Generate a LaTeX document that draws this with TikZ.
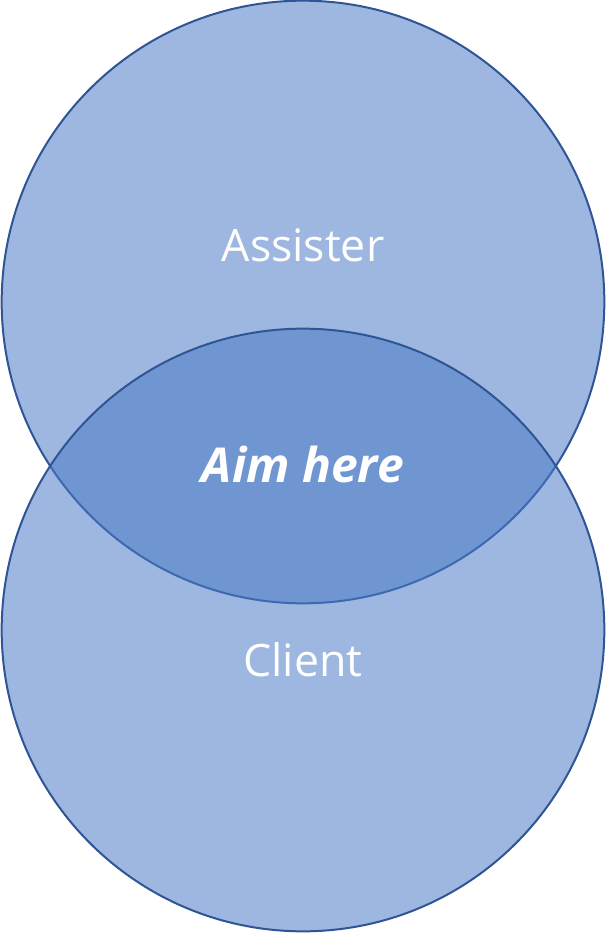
\documentclass[tikz,border=0pt]{standalone}
\usepackage{fontspec}
\setsansfont{Open Sans}
\usetikzlibrary{positioning}

\definecolor{setfill}{RGB}{73,122,198}
\definecolor{setline}{RGB}{47,85,151}

\begin{document}
\begin{tikzpicture}[x=0.75pt,y=-0.75pt,
  set circle/.style={circle,draw=setline,line width=1.5pt,fill=setfill,fill opacity=0.54,
    minimum size=452pt,inner sep=0pt},
  set label/.style={text=white,font=\sffamily\fontsize{33.5}{38}\selectfont}]
   \useasboundingbox (0,0) rectangle (610,933);
   \node[set circle] (assister) at (303,302) {};
   \node[set circle] (client)   at (303,630) {};
   \node[set label] (assister label) at (303,245) {Assister};
   \node[set label] (client label)   at (303,660) {Client};
   \node[set label,font=\sffamily\bfseries\itshape\fontsize{36}{40}\selectfont]
        (aim) at (303,464) {Aim here};
\end{tikzpicture}
\end{document}
